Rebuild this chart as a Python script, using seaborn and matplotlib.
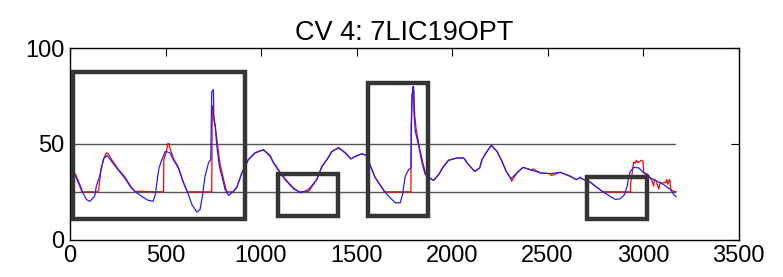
import numpy as np
import pandas as pd
import matplotlib
matplotlib.use("Agg")
import matplotlib.pyplot as plt
import seaborn as sns
from matplotlib.patches import Rectangle

# serie azul (medida)
x_azul = [15, 30, 59, 86, 103, 129, 138, 155, 164, 178, 195, 217, 251, 286, 321, 339, 374, 409, 435,
          447, 457, 466, 478, 499, 506, 524, 541, 567, 594, 620, 638, 664, 681, 693, 707, 725, 737,
          742, 751, 753, 760, 769, 782, 800, 812, 830, 847, 873, 900, 934, 969, 1013, 1048, 1065,
          1100, 1126, 1170, 1209, 1249, 1292, 1319, 1345, 1371, 1406, 1441, 1471, 1493, 1528, 1555,
          1572, 1598, 1633, 1668, 1703, 1729, 1741, 1755, 1773, 1785, 1790, 1799, 1801, 1808, 1826,
          1843, 1860, 1883, 1904, 1930, 1956, 1982, 2026, 2061, 2087, 2113, 2120, 2145, 2157, 2183,
          2206, 2236, 2262, 2284, 2309, 2340, 2372, 2419, 2463, 2515, 2567, 2620, 2651, 2672, 2681,
          2725, 2751, 2786, 2821, 2856, 2882, 2903, 2917, 2925, 2934, 2951, 2978, 3004, 3039, 3074,
          3108, 3144, 3161, 3175]
y_azul = [35, 33, 26, 21, 20, 22.7, 28, 33, 37.5, 42.7, 44, 41, 36.6, 32.3, 27, 25.3, 22.7, 20.6, 20.1,
          23.6, 31.4, 37.5, 41, 46.1, 46, 45.3, 41.8, 37.5, 29.7, 23.6, 18.4, 14.4, 15.8, 22.7, 33.1, 40.1, 41.8,
          77.4, 78.4, 62.7, 59.2, 48.8, 38.3, 31.4, 26.2, 23.1, 24.5, 27.1, 34.9, 41.8, 45.3, 47, 43.5, 40.1,
          34.9, 31.4, 26.6, 24.5, 26.2, 31.4, 38.3, 41.8, 46.1, 47.9, 45.3, 42.2, 43.5, 44.9, 43.9,
          38.8, 32.3, 27.1, 22.7, 19.3, 19.3, 23.6, 33.1, 36.6, 37.5, 75.7, 80, 66, 56.6, 48.8,
          40.1, 34, 32.3, 31, 34, 38.3, 41.5, 42.7, 42.7, 39.2, 36.3, 35.7, 37.5, 41.8, 46.1,
          49.3, 46.1, 40.9, 35.7, 31.8, 34.9, 37.8, 36.3, 34.9, 34.5, 35.2, 33.1, 31.4, 32.6, 31.8,
          30, 27.9, 25.3, 23.1, 21, 21.4, 23.6, 27.9, 33.1, 35.7, 37.8, 37.5, 34.9, 32.3, 30.5,
          28.8, 26.2, 23.6, 22.4]

# serie roja (limitada a 25)
x_rojo = [15, 30, 59, 65, 145, 150, 160, 175, 190, 200, 217, 251, 286, 321, 339, 490, 491, 505, 512,
          518, 526, 541, 567, 594, 615, 742, 745, 752, 760, 772, 785, 803, 815, 822, 855, 873, 900,
          934, 969, 1013, 1048, 1065, 1100, 1126, 1170, 1200, 1250, 1292, 1319, 1345, 1371, 1406,
          1441, 1471, 1493, 1528, 1555, 1572, 1598, 1633, 1645, 1785, 1786, 1795, 1800, 1805, 1812,
          1830, 1848, 1862, 1885, 1904, 1930, 1956, 1982, 2026, 2061, 2087, 2113, 2120, 2145, 2157,
          2183, 2206, 2236, 2262, 2284, 2309, 2312, 2340, 2372, 2419, 2425, 2463, 2515, 2520, 2567,
          2620, 2651, 2672, 2681, 2725, 2751, 2786, 2790, 2934, 2936, 2945, 2951, 2960, 2965, 2975,
          2990, 3000, 3004, 3020, 3030, 3040, 3050, 3055, 3060, 3070, 3083, 3090, 3100, 3120, 3125,
          3130, 3140, 3145, 3155, 3170, 3175]
y_rojo = [36, 34, 27, 25, 25, 26, 35, 42, 45.3, 45, 42, 37, 33, 27.5, 25.3, 25, 41.8, 46, 50.2,
          50.2, 47, 42.5, 38, 30, 25, 25, 70, 65, 60, 50, 40, 32, 27, 25, 25, 27.5, 35,
          42, 45.5, 47, 44, 40.5, 35.3, 31.8, 27, 25, 25.3, 31.4, 38.3, 41.8, 46.1, 48.2,
          45.5, 42.2, 43.5, 44.9, 43.9, 38.8, 32.5, 27.3, 25, 25, 60, 80, 78, 65, 58,
          48, 40, 34.5, 32, 31, 34, 38.3, 41.5, 42.7, 42.7, 39.2, 36.3, 35.7, 37.5, 41.8,
          46.1, 49.3, 46.1, 40.9, 35.7, 31.8, 30.5, 34.9, 37.8, 36.3, 37, 34.9, 34.5, 33.5, 35.2,
          33.1, 31.4, 32.6, 31.8, 30, 27.9, 25.3, 25, 25, 30, 36, 40.5, 40, 41.5, 40.3,
          41.5, 41, 35, 34.5, 33.5, 32, 30, 28, 31.5, 30.5, 26.5, 30, 29.5, 30, 31.5,
          29, 31.5, 26.5, 25.5, 25, 25]

# limites horizontales
niveles = [50, 25]
x_fin_niveles = 3170

# cuadros marcados
caja_x0 = [14, 1090, 1561, 2709]
caja_x1 = [917, 1403, 1874, 3023]
caja_y0 = [10.8, 12.4, 12.4, 10.8]
caja_y1 = [87.4, 34.3, 81.9, 32.8]

sns.set_style("white")
plt.rcParams['font.family'] = ['Liberation Sans', 'DejaVu Sans']

df_azul = pd.DataFrame({'x': x_azul, 'y': y_azul})
df_rojo = pd.DataFrame({'x': x_rojo, 'y': y_rojo})

fig = plt.figure(figsize=(7.83, 2.77), dpi=100)
ax = fig.add_axes([70 / 783, 1 - 239.7 / 277, 668.5 / 783, (239.7 - 48.3) / 277])

for n in niveles:
    ax.plot([0, x_fin_niveles], [n, n], color='#555555', lw=1.0, zorder=1)

sns.lineplot(data=df_rojo, x='x', y='y', color='#ff0000', lw=0.9, sort=False, estimator=None, ax=ax, zorder=2)
sns.lineplot(data=df_azul, x='x', y='y', color='#2020ff', lw=0.9, sort=False, estimator=None, ax=ax, zorder=3)

for x0, x1, y0, y1 in zip(caja_x0, caja_x1, caja_y0, caja_y1):
    ax.add_patch(Rectangle((x0, y0), x1 - x0, y1 - y0, fill=False, edgecolor='#353535', lw=3.2, zorder=4))

ax.set_xlim(0, 3500)
ax.set_ylim(0, 100)
ax.set_xticks(np.arange(0, 3501, 500))
ax.set_yticks([0, 50, 100])
ax.set_xlabel('')
ax.set_ylabel('')
ax.tick_params(direction='in', length=6, width=0.8, top=True, right=True, labelsize=17, pad=4, colors='black')
for s in ax.spines.values():
    s.set_color('black')
    s.set_linewidth(1.0)
ax.set_title('CV 4: 7LIC19OPT', fontsize=19.5, pad=6, color='black')

fig.savefig('out.png', dpi=100)
